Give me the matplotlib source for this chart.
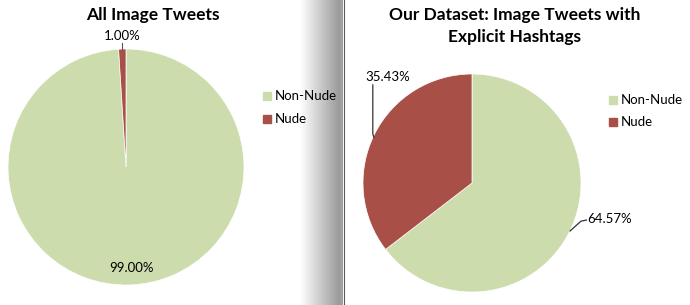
import numpy as np
import matplotlib.pyplot as plt

# data
labels = ['Non-Nude', 'Nude']
all_tweets = [99.00, 1.00]
our_dataset = [64.57, 35.43]
titles = ['All Image Tweets', 'Our Dataset: Image Tweets with\nExplicit Hashtags']
colors = ['#CDDCAC', '#A84F48']

plt.rcParams['font.family'] = ['Lato', 'DejaVu Sans']

W, H = 690, 305
fig = plt.figure(figsize=(W / 100, H / 100), dpi=100)
fig.patch.set_facecolor('white')


def px_axes(x0, y0, x1, y1):
    # pixel box (top-left origin) -> figure axes
    return fig.add_axes([x0 / W, 1 - y1 / H, (x1 - x0) / W, (y1 - y0) / H])


def draw_pie(ax, vals):
    wedges, _ = ax.pie(vals, colors=colors, startangle=90, counterclock=False,
                       wedgeprops=dict(linewidth=0.5, edgecolor='white'))
    ax.set_xlim(-1, 1)
    ax.set_ylim(-1, 1)
    ax.set_aspect('equal')
    ax.axis('off')
    return wedges


# left pie
axL = px_axes(8, 49, 244, 285)
draw_pie(axL, all_tweets)
axL.plot([-0.03, -0.03], [1.0, 1.055], color='#555555', lw=0.8, clip_on=False)
axL.text(-0.03, 1.06, '%.2f%%' % all_tweets[1], ha='center', va='bottom', fontsize=9.5, clip_on=False)
axL.text(0.05, -0.86, '%.2f%%' % all_tweets[0], ha='center', va='center', fontsize=9.5)
fig.text(153 / W, 1 - 15 / H, titles[0], ha='center', va='center', fontsize=12.5, fontweight='bold')

# right pie
axR = px_axes(363, 74, 581, 292)
draw_pie(axR, our_dataset)
axR.plot([-0.91, -0.91, -0.9], [0.9, 0.45, 0.42], color='#333333', lw=0.9, clip_on=False)
axR.text(-0.98, 0.97, '%.2f%%' % our_dataset[1], ha='left', va='center', fontsize=9.5, clip_on=False)
axR.plot([0.9, 1.0, 1.05], [-0.44, -0.35, -0.34], color='#333333', lw=0.9, clip_on=False)
axR.text(1.06, -0.33, '%.2f%%' % our_dataset[0], ha='left', va='center', fontsize=9.5, clip_on=False)
fig.text(515 / W, 1 - 26 / H, titles[1], ha='center', va='center', fontsize=12.5,
         fontweight='bold', linespacing=1.4)

# legends
for lx, ly in [(263, 96), (609, 100)]:
    for i, lab in enumerate(labels):
        yy = ly + i * 22.5
        fig.patches.append(plt.Rectangle((lx / W, 1 - (yy + 4) / H), 8 / W, 8 / H,
                                         transform=fig.transFigure, color=colors[i]))
        fig.text((lx + 12) / W, 1 - yy / H, lab, ha='left', va='center', fontsize=9.5)

# shadow band between the two charts
band = px_axes(300, 0, 340, 305)
grad = np.linspace(1.0, 0.6, 200)[None, :]
band.imshow(grad, cmap='gray', vmin=0, vmax=1, aspect='auto', extent=[0, 1, 0, 1])
band.axis('off')
strip = px_axes(340, 0, 343, 305)
strip.set_facecolor('#A0A0A0')
strip.set_xticks([])
strip.set_yticks([])
for s in strip.spines.values():
    s.set_visible(False)
fig.add_artist(plt.Line2D([343.5 / W, 343.5 / W], [0, 1], color='#5A5A5A', lw=0.8,
                          transform=fig.transFigure))

fig.savefig('out.png', dpi=100, facecolor='white')
